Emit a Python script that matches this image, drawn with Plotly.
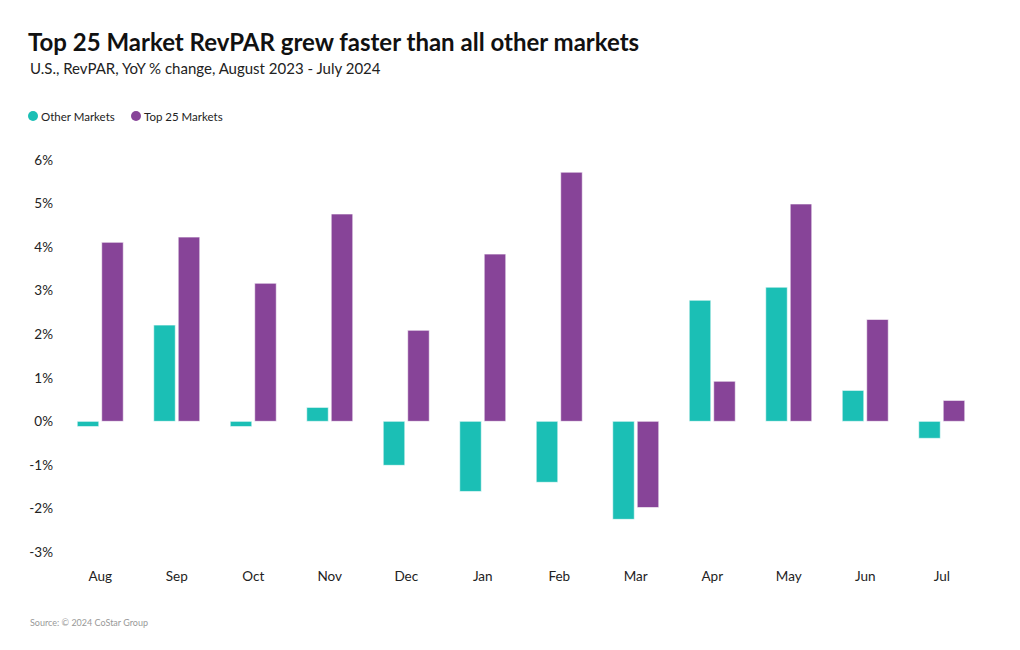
import plotly.graph_objects as go

months = ["Aug", "Sep", "Oct", "Nov", "Dec", "Jan", "Feb", "Mar", "Apr", "May", "Jun", "Jul"]
other_markets = [-0.12, 2.21, -0.12, 0.32, -1.01, -1.61, -1.40, -2.25, 2.78, 3.08, 0.71, -0.39]
top25_markets = [4.11, 4.23, 3.17, 4.76, 2.09, 3.84, 5.72, -1.98, 0.92, 4.99, 2.34, 0.48]
y_ticks = [-3, -2, -1, 0, 1, 2, 3, 4, 5, 6]
y_labels = [f"{v}%" for v in y_ticks]

TEAL = "#1BBFB5"
PURPLE = "#874498"
FONT = "Source Sans Pro, Lato, Noto Sans, sans-serif"

# page body adds an 8px offset; all pixel positions below are in figure coords
OFF = 8
plot_l, plot_r, plot_t, plot_b = 62 - OFF, 980 - OFF, 160 - OFF, 552 - OFF


def px(xp):
    return (xp - OFF - plot_l) / (plot_r - plot_l)


def py(yp):
    return (plot_b - (yp - OFF)) / (plot_b - plot_t)


fig = go.Figure()
fig.add_trace(go.Bar(x=months, y=other_markets, name="Other Markets",
                     marker=dict(color=TEAL, line=dict(color="rgba(255,255,255,0.6)", width=1)),
                     showlegend=False))
fig.add_trace(go.Bar(x=months, y=top25_markets, name="Top 25 Markets",
                     marker=dict(color=PURPLE, line=dict(color="rgba(255,255,255,0.6)", width=1)),
                     showlegend=False))

annotations = [
    dict(text="U.S., RevPAR, YoY % change, August 2023 - July 2024",
         x=px(28), y=py(68), xanchor="left", yanchor="middle",
         font=dict(size=15, color="#222222")),
    dict(text="Source: © 2024 CoStar Group",
         x=px(28), y=py(622), xanchor="left", yanchor="middle",
         font=dict(size=9, color="#999999")),
    dict(text="Other Markets", x=px(39), y=py(116), xanchor="left", yanchor="middle",
         font=dict(size=11.5, color="#222222")),
    dict(text="Top 25 Markets", x=px(142), y=py(116), xanchor="left", yanchor="middle",
         font=dict(size=11.5, color="#222222")),
]
for a in annotations:
    a.update(xref="paper", yref="paper", showarrow=False)

shapes = []
for cx, col in [(33, TEAL), (136, PURPLE)]:
    shapes.append(dict(type="circle", xref="paper", yref="paper",
                       xsizemode="pixel", ysizemode="pixel",
                       xanchor=px(cx), yanchor=py(116),
                       x0=-5, x1=5, y0=-5, y1=5,
                       fillcolor=col, line=dict(width=0)))

fig.update_layout(
    width=1020, height=650,
    paper_bgcolor="white", plot_bgcolor="white",
    barmode="group", bargap=0.36, bargroupgap=0.12,
    showlegend=False,
    margin=dict(l=plot_l, r=1020 - plot_r, t=plot_t, b=650 - plot_b),
    font=dict(family=FONT, color="#222222"),
    title=dict(text="<b>Top 25 Market RevPAR grew faster than all other markets</b>",
               x=(28 - OFF) / 1020, xref="container", xanchor="left",
               y=1 - (43 - OFF) / 650, yref="container", yanchor="middle",
               font=dict(size=24, color="#111111", family=FONT)),
    xaxis=dict(showgrid=False, zeroline=False, showline=False, ticks="",
               ticklabelstandoff=14,
               tickfont=dict(size=13.5, color="#222222")),
    yaxis=dict(range=[-3, 6], tickvals=y_ticks, ticktext=y_labels, showgrid=False,
               zeroline=False, showline=False, ticks="", ticklabelstandoff=8,
               tickfont=dict(size=13.5, color="#222222")),
    annotations=annotations,
    shapes=shapes,
)

fig.write_html("out.html")
